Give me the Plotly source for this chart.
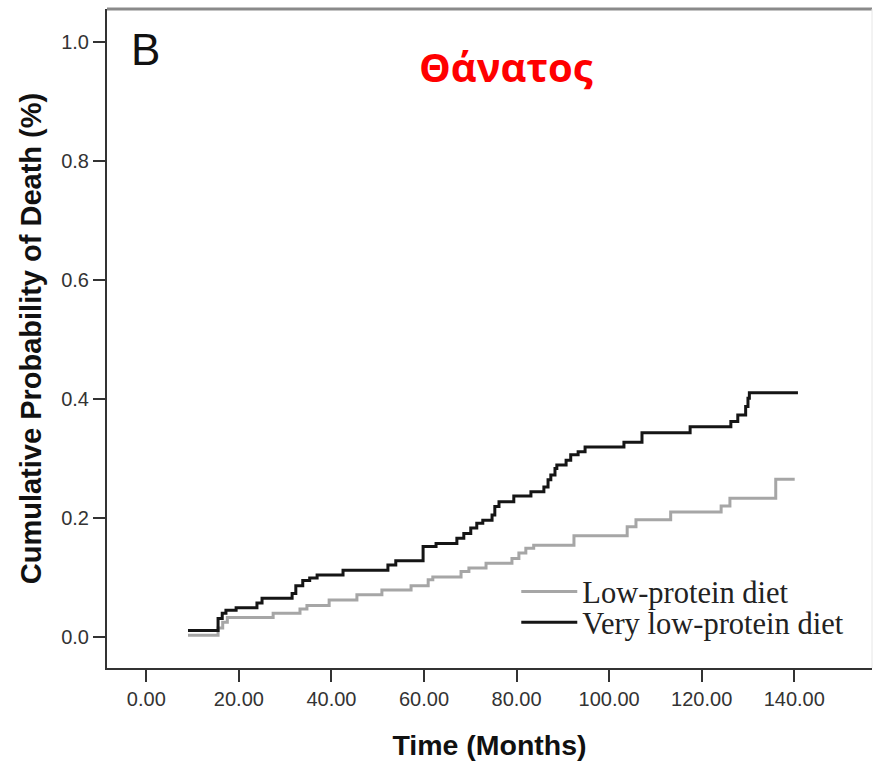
import plotly.graph_objects as go

# Cumulative probability of death by follow-up time (months), step functions
lp_months = [9.0, 15.5, 16.5, 17.5, 27.4, 33.2, 34.7, 39.5, 45.5, 50.9, 57.2, 60.9,
             61.9, 68.0, 69.7, 73.4, 79.0, 80.5, 82.0, 83.7, 92.4, 103.9, 105.8,
             113.3, 124.2, 126.1, 136.0, 140.1]
lp_prob = [0.003, 0.015, 0.025, 0.033, 0.040, 0.047, 0.053, 0.062, 0.071, 0.079, 0.086,
           0.096, 0.101, 0.110, 0.116, 0.124, 0.132, 0.141, 0.149, 0.154, 0.170, 0.185,
           0.197, 0.210, 0.220, 0.233, 0.265, 0.265]

vlp_months = [9.0, 15.5, 16.4, 17.2, 19.4, 23.9, 25.0, 31.5, 32.3, 33.8, 35.3, 36.9,
              42.5, 52.2, 53.9, 59.8, 62.6, 67.1, 68.6, 70.1, 71.4, 72.7, 74.7, 75.3,
              76.2, 79.4, 83.1, 85.9, 86.8, 87.4, 88.3, 88.7, 90.7, 91.7, 93.3, 94.8,
              103.2, 107.1, 117.5, 126.3, 127.8, 129.5, 130.0, 130.3, 140.8]
vlp_prob = [0.011, 0.031, 0.040, 0.045, 0.049, 0.057, 0.065, 0.073, 0.086, 0.095, 0.099,
            0.104, 0.112, 0.121, 0.128, 0.152, 0.157, 0.166, 0.174, 0.183, 0.191, 0.196,
            0.205, 0.219, 0.227, 0.237, 0.244, 0.252, 0.264, 0.272, 0.283, 0.289, 0.297,
            0.306, 0.311, 0.319, 0.327, 0.343, 0.353, 0.362, 0.373, 0.387, 0.401, 0.410,
            0.410]

x_ticks = [0, 20, 40, 60, 80, 100, 120, 140]
x_tick_text = ["0.00", "20.00", "40.00", "60.00", "80.00", "100.00", "120.00", "140.00"]
y_ticks = [0.0, 0.2, 0.4, 0.6, 0.8, 1.0]
y_tick_text = ["0.0", "0.2", "0.4", "0.6", "0.8", "1.0"]

fig = go.Figure()
fig.add_trace(go.Scatter(
    x=lp_months, y=lp_prob, mode="lines", name="Low-protein diet",
    line=dict(shape="hv", color="#a6a6a6", width=3), legend="legend",
))
fig.add_trace(go.Scatter(
    x=vlp_months, y=vlp_prob, mode="lines", name="Very low-protein diet",
    line=dict(shape="hv", color="#151515", width=3), legend="legend2",
))

legend_font = dict(family="Liberation Serif, Times New Roman, serif", size=30.5, color="#222")
fig.update_layout(
    width=874, height=761,
    margin=dict(l=107, r=2, t=9, b=93),
    paper_bgcolor="white", plot_bgcolor="white",
    showlegend=True,
    legend=dict(x=0.535, y=0.116, xanchor="left", yanchor="middle", font=legend_font,
                bgcolor="rgba(0,0,0,0)", itemwidth=56),
    legend2=dict(x=0.535, y=0.069, xanchor="left", yanchor="middle", font=legend_font,
                 bgcolor="rgba(0,0,0,0)", itemwidth=56),
    xaxis=dict(
        range=[-8.5, 156.8], tickvals=x_ticks, ticktext=x_tick_text,
        showgrid=False, zeroline=False, showline=True, linecolor="#333", linewidth=2,
        ticks="outside", ticklen=12, tickwidth=2, tickcolor="#333",
        tickfont=dict(family="Liberation Sans, Arial, sans-serif", size=20, color="#333"),
        title=dict(text="<b>Time (Months)</b>", standoff=26,
                   font=dict(family="Liberation Sans, Arial, sans-serif", size=28.5, color="#111")),
    ),
    yaxis=dict(
        range=[-0.052, 1.0546], tickvals=y_ticks, ticktext=y_tick_text,
        showgrid=False, zeroline=False, showline=True, linecolor="#333", linewidth=2,
        ticks="outside", ticklen=12, tickwidth=2, tickcolor="#333",
        tickfont=dict(family="Liberation Sans, Arial, sans-serif", size=20, color="#333"),
        title=dict(text="<b>Cumulative Probability of Death (%)</b>", standoff=11,
                   font=dict(family="Liberation Sans, Arial, sans-serif", size=29, color="#111")),
    ),
    shapes=[
        dict(type="line", xref="paper", yref="paper", x0=0, x1=1, y0=1, y1=1,
             line=dict(color="#8a8a8a", width=3)),
        dict(type="line", xref="paper", yref="paper", x0=1, x1=1, y0=0, y1=1,
             line=dict(color="#e6e6e6", width=1)),
    ],
    annotations=[
        dict(text="B", xref="paper", yref="paper", x=0.029, y=0.938,
             xanchor="left", yanchor="middle", showarrow=False,
             font=dict(family="Liberation Sans, Arial, sans-serif", size=44, color="#111")),
        dict(text="<b>Θάνατος</b>", xref="paper", yref="paper", x=0.5216, y=0.912,
             xanchor="center", yanchor="middle", showarrow=False,
             font=dict(family="Open Sans, Noto Sans, sans-serif", size=40, color="#ff0000")),
    ],
)

fig.write_html("out.html")
